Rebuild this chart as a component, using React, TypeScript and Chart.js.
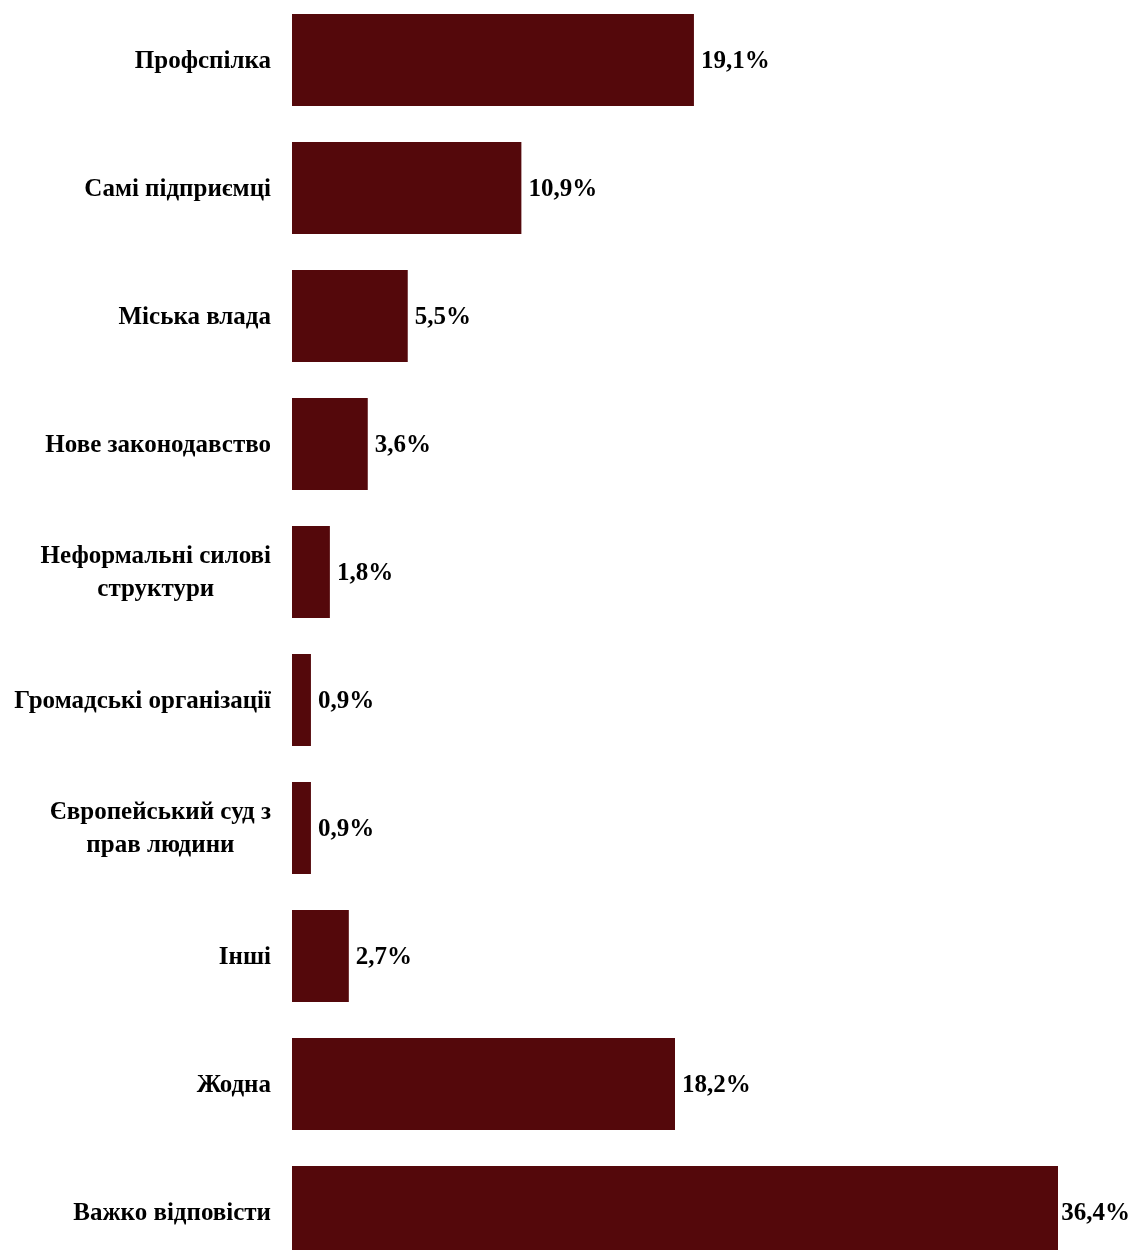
import React, { useEffect, useRef } from "react";
import { Chart, registerables } from "chart.js";

Chart.register(...registerables);

const categories: string[][] = [
  ["Профспілка"],
  ["Самі підприємці"],
  ["Міська влада"],
  ["Нове законодавство"],
  ["Неформальні силові", "структури"],
  ["Громадські організації"],
  ["Європейський суд з", "прав людини"],
  ["Інші"],
  ["Жодна"],
  ["Важко відповісти"],
];
const values: number[] = [19.1, 10.9, 5.5, 3.6, 1.8, 0.9, 0.9, 2.7, 18.2, 36.4];
const valueLabels: string[] = ["19,1%", "10,9%", "5,5%", "3,6%", "1,8%", "0,9%", "0,9%", "2,7%", "18,2%", "36,4%"];

const FONT = "bold 25px 'Liberation Serif', 'Times New Roman', serif";
const BAR_COLOR = "#54080B";
const W = 1132;

const labelsPlugin = {
  id: "customLabels",
  afterDatasetsDraw(chart: any) {
    const ctx = chart.ctx;
    const yScale = chart.scales.y;
    const meta = chart.getDatasetMeta(0);
    ctx.save();
    ctx.font = FONT;
    ctx.fillStyle = "#000";
    ctx.textBaseline = "middle";
    meta.data.forEach((bar: any, i: number) => {
      ctx.textAlign = "left";
      const w = ctx.measureText(valueLabels[i]).width;
      const x = Math.min(bar.x + 7, W - 2 - w);
      ctx.fillText(valueLabels[i], x, bar.y + 1.5);
    });
    const rightEdge = yScale.right - 21;
    categories.forEach((lines, i) => {
      const cy = yScale.getPixelForValue(i);
      const maxW = Math.max(...lines.map((l) => ctx.measureText(l).width));
      const cx = rightEdge - maxW / 2;
      const lh = 33;
      const startY = cy - ((lines.length - 1) * lh) / 2;
      ctx.textAlign = "center";
      lines.forEach((l, j) => ctx.fillText(l, cx, startY + j * lh + 1.5));
    });
    ctx.restore();
  },
};

export default function App() {
  const ref = useRef<HTMLCanvasElement | null>(null);
  useEffect(() => {
    if (!ref.current) return;
    const chart = new Chart(ref.current, {
      type: "bar",
      data: {
        labels: categories.map((c) => c.join(" ")),
        datasets: [
          {
            data: values,
            backgroundColor: BAR_COLOR,
            categoryPercentage: 0.72,
            barPercentage: 1,
          },
        ],
      },
      options: {
        indexAxis: "y",
        animation: false,
        responsive: false,
        maintainAspectRatio: false,
        layout: { padding: { left: 0, right: 74, top: 0, bottom: 0 } },
        plugins: { legend: { display: false }, tooltip: { enabled: false } },
        scales: {
          x: { display: false, min: 0, max: 36.4 },
          y: {
            grid: { display: false },
            border: { display: false },
            ticks: { display: false },
            afterFit: (scale: any) => {
              scale.width = 292;
            },
          },
        },
      },
      plugins: [labelsPlugin],
    });
    return () => chart.destroy();
  }, []);
  return (
    <div style={{ position: "fixed", top: -4, left: 0, width: W, height: 1280, overflow: "hidden" }}>
      <canvas ref={ref} width={W} height={1280} style={{ display: "block" }} />
    </div>
  );
}
